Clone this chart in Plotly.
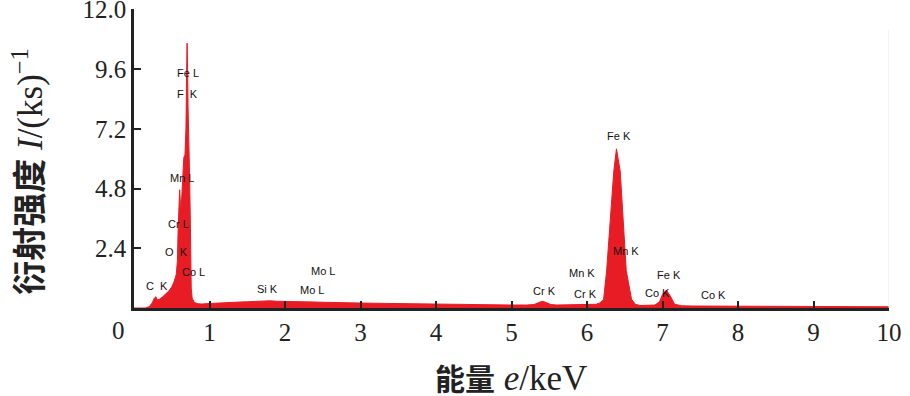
import plotly.graph_objects as go

# Spectrum (energy in keV, intensity in ks^-1)
energy = [0.00, 0.15, 0.20, 0.24, 0.27, 0.29, 0.31, 0.34, 0.38, 0.42, 0.46, 0.50, 0.53, 0.56,
          0.575, 0.585, 0.595, 0.605, 0.615, 0.625, 0.635, 0.65, 0.66, 0.675, 0.688, 0.696,
          0.703, 0.709, 0.716, 0.726, 0.735, 0.745, 0.752, 0.758, 0.77, 0.80, 0.85, 0.9, 1.0,
          1.1, 1.2, 1.3, 1.4, 1.5, 1.6, 1.7, 1.75, 1.8, 1.9, 2.0, 2.1, 2.2, 2.3, 2.4, 2.5, 2.6,
          2.8, 3.0, 3.2, 3.4, 3.6, 3.8, 4.0, 4.2, 4.4, 4.6, 4.8, 5.0, 5.2, 5.3, 5.36, 5.41,
          5.46, 5.52, 5.6, 5.8, 5.95, 6.05, 6.12, 6.17, 6.22, 6.26, 6.31, 6.355, 6.39, 6.44,
          6.48, 6.52, 6.59, 6.64, 6.7, 6.8, 6.9, 6.96, 7.0, 7.05, 7.1, 7.16, 7.25, 7.4, 7.6,
          7.8, 8.0, 8.3, 8.6, 9.0, 9.3, 9.6, 10.0]
intensity = [0, 0, 0.05, 0.2, 0.40, 0.45, 0.32, 0.36, 0.45, 0.55, 0.68, 0.85, 1.05, 1.35,
             1.9, 3.2, 4.3, 4.75, 4.2, 4.0, 4.6, 5.6, 6.05, 6.15, 7.2, 9.3,
             10.65, 9.9, 8.1, 7.0, 5.5, 3.7, 1.8, 0.8, 0.4, 0.22, 0.17, 0.16, 0.18,
             0.2, 0.21, 0.22, 0.24, 0.25, 0.27, 0.3, 0.31, 0.29, 0.27, 0.27, 0.26, 0.25, 0.25, 0.24, 0.23, 0.22,
             0.21, 0.2, 0.19, 0.18, 0.17, 0.16, 0.15, 0.15, 0.14, 0.13, 0.12, 0.12, 0.12, 0.14, 0.22, 0.27,
             0.22, 0.14, 0.12, 0.12, 0.14, 0.13, 0.15, 0.2, 0.35, 1.5, 3.5, 5.5, 6.4, 5.5,
             3.5, 1.5, 0.35, 0.15, 0.1, 0.1, 0.12, 0.25, 0.55, 0.72, 0.5, 0.15, 0.09, 0.08, 0.08,
             0.07, 0.07, 0.06, 0.06, 0.05, 0.05, 0.05, 0.05]

# Peak labels
peak_labels = ["Fe L", "F  K", "Mn L", "Cr L", "O  K", "Co L", "C  K", "Mo L", "Si K", "Mo L",
               "Cr K", "Fe K", "Mn K", "Mn K", "Cr K", "Fe K", "Co K", "Co K"]
label_x = [0.72, 0.71, 0.64, 0.59, 0.56, 0.79, 0.30, 2.50, 1.77, 2.36,
           5.44, 6.42, 6.52, 5.93, 5.98, 7.08, 6.93, 7.68]
label_y = [9.44, 8.59, 5.22, 3.37, 2.25, 1.45, 0.88, 1.49, 0.76, 0.72,
           0.68, 6.91, 2.29, 1.41, 0.56, 1.33, 0.60, 0.52]

x_tickvals = [1, 2, 3, 4, 5, 6, 7, 8, 9, 10]
y_tickvals = [2.4, 4.8, 7.2, 9.6, 12.0]
y_ticktext = ["2.4", "4.8", "7.2", "9.6", "12.0"]

RED = "#e81c24"
SERIF = "Liberation Serif, Times New Roman, serif"

fig = go.Figure()
fig.add_trace(go.Scatter(x=energy, y=intensity, mode="lines", fill="tozeroy",
                         fillcolor=RED, line=dict(color=RED, width=1), hoverinfo="skip"))

for t, x, y in zip(peak_labels, label_x, label_y):
    fig.add_annotation(x=x, y=y, text=t, showarrow=False, xref="x", yref="y",
                       xanchor="center", yanchor="middle",
                       font=dict(family="Liberation Sans, Arial, sans-serif", size=11, color="#111"))

fig.add_annotation(xref="paper", yref="paper", x=-16 / 755, y=0, yshift=-22, text="0",
                   xanchor="center", yanchor="middle",
                   showarrow=False, font=dict(family=SERIF, size=25, color="#222"))

fig.add_annotation(xref="paper", yref="paper", x=-106 / 755, y=(308 - 171) / 298.5, textangle=-90,
                   xanchor="center", yanchor="middle",
                   text="<span style='font-family:Noto Sans CJK SC;font-weight:bold;font-size:34px'>衍射强度</span> <i>I</i>/(ks)<sup>−1</sup>",
                   showarrow=False, font=dict(family=SERIF, size=35, color="#222"))
fig.add_annotation(xref="paper", yref="paper", x=(511 - 134) / 755, y=0, yshift=-69,
                   xanchor="center", yanchor="middle",
                   text="<span style='font-family:Noto Sans CJK SC;font-weight:bold;font-size:30px'>能量</span> <i>e</i>/keV",
                   showarrow=False, font=dict(family=SERIF, size=35, color="#222"))

fig.add_shape(type="line", xref="x", yref="paper", x0=10, x1=10, y0=0, y1=0.93,
              line=dict(color="#e6e6e6", width=1))

fig.update_layout(
    width=910, height=396,
    margin=dict(l=134, r=21, t=9, b=88, autoexpand=False),
    plot_bgcolor="white", paper_bgcolor="white",
    showlegend=False,
    xaxis=dict(range=[0, 10], tickvals=x_tickvals, showline=True, linecolor="#222", linewidth=2.5,
               ticks="inside", ticklen=7, tickwidth=2, tickcolor="#222", showgrid=False, zeroline=False,
               automargin=False, ticklabeloverflow="allow",
               tickfont=dict(family=SERIF, size=25, color="#222")),
    yaxis=dict(range=[0, 12.02], tickvals=y_tickvals, ticktext=y_ticktext, showline=True, linecolor="#222",
               linewidth=2.5, ticks="inside", ticklen=7, tickwidth=2, tickcolor="#222", showgrid=False,
               zeroline=False, automargin=False, ticklabeloverflow="allow",
               tickfont=dict(family=SERIF, size=25, color="#222")),
)

fig.write_html("out.html", config={"displayModeBar": False},
               post_script="document.body.style.margin='0';")
